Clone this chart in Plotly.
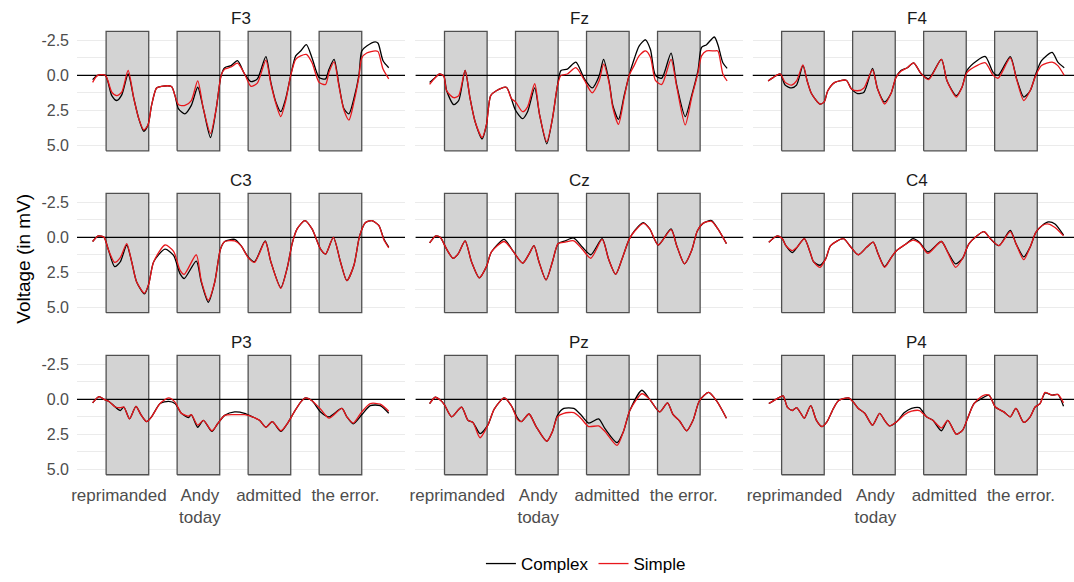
import plotly.graph_objects as go

# ---------------- data (time in ms, voltage in mV; y axis reversed) ----------------
panel_names = ["F3", "Fz", "F4", "C3", "Cz", "C4", "P3", "Pz", "P4"]

word_on = [0, 500, 1000, 1500]
word_off = [300, 800, 1300, 1800]
rect_top = -3.15
rect_bottom = 5.4

tick_pos = [90, 660, 1145, 1685]
tick_text = ["reprimanded", "Andy<br>today", "admitted", "the error."]

y_tickvals = [-2.5, 0.0, 2.5, 5.0]
y_ticktext = ["-2.5", "0.0", "2.5", "5.0"]

t_F3 = [-95, -60, -5, 40, 75, 110, 155, 195, 230, 265, 295, 320, 355, 390, 460, 485, 510, 555, 600, 645,
        685, 735, 775, 810, 835, 880, 925, 975, 1020, 1065, 1125, 1160, 1195, 1230, 1265, 1300, 1335, 1370,
        1410, 1450, 1500, 1545, 1570, 1605, 1640, 1675, 1710, 1745, 1780, 1800, 1835, 1895, 1915, 1950, 1990]
F3_complex = [0.3, 0.0, 0.0, 1.45, 1.8, 1.4, -0.1, 1.65, 3.1, 4.0, 3.55, 2.15, 0.9, 0.78, 0.8, 1.45, 2.4, 2.75,
              2.15, 0.85, 2.4, 4.45, 2.4, 0.0, -0.55, -0.7, -1.05, -0.1, 0.45, 0.25, -1.35, 0.5, 1.9, 2.6, 1.65,
              0.0, -1.4, -1.75, -2.2, -1.25, 0.15, 0.25, -0.45, -1.15, 0.7, 2.4, 2.75, 1.65, 0.0, -1.75, -2.1,
              -2.4, -2.3, -1.05, -0.55]
F3_simple = [0.5, 0.0, 0.0, 1.2, 1.45, 1.2, -0.35, 1.65, 3.1, 3.9, 3.55, 2.15, 0.9, 0.78, 0.8, 1.45, 2.1, 2.15,
             1.8, 0.4, 2.4, 4.15, 2.4, 0.0, -0.45, -0.6, -0.87, -0.1, 0.78, 0.55, -1.1, 0.6, 2.0, 2.95, 1.8,
             0.0, -1.15, -1.4, -1.5, -0.9, 0.5, 0.65, -0.25, -0.97, 0.8, 2.5, 3.2, 1.9, 0.1, -1.25, -1.6,
             -1.75, -1.7, -0.45, 0.25]

t_Fz = [-105, -65, -35, -5, 15, 65, 100, 145, 180, 215, 265, 295, 325, 365, 435, 470, 500, 550, 585, 635,
        670, 720, 760, 795, 820, 865, 925, 985, 1040, 1090, 1120, 1160, 1185, 1225, 1265, 1300, 1335, 1370,
        1415, 1450, 1485, 1530, 1595, 1635, 1695, 1740, 1785, 1810, 1845, 1900, 1925, 1960, 1990]
Fz_complex = [0.5, 0.15, -0.1, 0.05, 1.1, 2.1, 1.8, -0.35, 1.65, 3.3, 4.55, 3.55, 1.45, 1.1, 0.85, 1.65, 2.5,
              3.1, 2.6, 0.9, 2.85, 4.9, 3.1, 0.75, -0.35, -0.45, -0.95, 0.25, 0.9, 0.0, -1.15, 0.5, 2.15,
              3.15, 1.45, 0.0, -1.15, -2.1, -2.55, -1.85, 0.0, 0.2, -1.6, 0.7, 2.95, 1.45, -0.35, -2.0,
              -2.2, -2.75, -2.2, -0.9, -0.5]
Fz_simple = [0.65, 0.15, -0.1, 0.05, 1.1, 1.6, 1.45, -0.35, 1.65, 3.3, 4.45, 3.55, 1.45, 1.1, 0.85, 1.65, 1.9,
             2.6, 2.25, 0.6, 2.85, 4.75, 3.1, 0.75, 0.0, -0.1, -0.55, 0.35, 1.25, 0.35, -0.8, 0.6, 2.3, 3.5,
             1.6, 0.0, -0.7, -1.4, -1.75, -1.3, 0.35, 0.65, -1.15, 0.8, 3.55, 1.6, -0.2, -1.4, -1.75, -1.75,
             -1.75, -0.1, 0.4]

t_F4 = [-95, -45, -10, 25, 70, 105, 150, 180, 210, 270, 300, 325, 375, 455, 490, 535, 580, 640, 675, 725,
        770, 805, 840, 885, 930, 980, 1035, 1125, 1165, 1230, 1270, 1305, 1375, 1435, 1490, 1525, 1610, 1655,
        1705, 1750, 1790, 1830, 1905, 1945, 1990]
F4_complex = [0.4, 0.05, -0.1, 0.7, 0.9, 0.7, -0.7, 0.4, 1.3, 2.05, 1.9, 1.1, 0.5, 0.35, 0.95, 1.3, 1.2, -0.5,
              0.95, 1.9, 1.3, 0.15, -0.35, -0.55, -0.9, -0.15, 0.25, -1.15, 0.4, 1.45, 0.85, -0.35, -1.05,
              -1.35, -0.2, 0.0, -1.35, 0.25, 1.55, 1.1, -0.1, -1.05, -1.65, -0.95, -0.55]
F4_simple = [0.4, 0.05, -0.1, 0.5, 0.7, 0.4, -0.75, 0.4, 1.3, 2.05, 1.9, 1.1, 0.5, 0.35, 0.95, 1.1, 0.9, -0.4,
             0.95, 2.05, 1.3, 0.15, -0.3, -0.55, -0.9, -0.15, 0.3, -1.15, 0.4, 1.55, 0.85, -0.2, -0.7, -0.9,
             0.0, 0.2, -1.25, 0.3, 1.8, 1.1, 0.0, -0.7, -0.95, -0.7, 0.0]

t_C3 = [-95, -55, -15, 15, 60, 100, 145, 180, 215, 270, 300, 335, 415, 475, 520, 550, 635, 670, 720, 765,
        805, 835, 905, 950, 1000, 1045, 1120, 1160, 1230, 1275, 1310, 1345, 1400, 1450, 1510, 1545, 1600,
        1650, 1695, 1745, 1785, 1825, 1870, 1920, 1955, 1990]
C3_complex = [0.3, -0.1, 0.0, 0.85, 2.1, 1.75, 0.55, 1.75, 3.2, 4.05, 3.35, 1.75, 0.85, 1.3, 2.6, 2.95, 1.7,
              3.2, 4.65, 3.2, 0.85, 0.3, 0.15, 0.6, 1.4, 1.75, 0.25, 1.75, 3.6, 2.2, 0.45, -0.6, -1.2, -0.6,
              0.85, 1.2, 0.0, 1.75, 3.1, 2.0, -0.1, -1.05, -1.2, -0.85, 0.1, 0.7]
C3_simple = [0.3, -0.1, 0.0, 0.85, 1.8, 1.45, 0.45, 1.75, 3.2, 4.0, 3.35, 1.75, 0.55, 1.0, 2.35, 2.65, 1.25,
             3.1, 4.5, 3.2, 0.85, 0.3, 0.25, 0.6, 1.45, 1.8, 0.3, 1.75, 3.65, 2.2, 0.45, -0.6, -1.2, -0.6,
             0.85, 1.2, 0.0, 1.75, 3.1, 2.0, -0.1, -1.05, -1.2, -0.85, 0.15, 0.75]

t_Cz = [-105, -60, -30, 15, 60, 95, 145, 190, 245, 295, 330, 420, 480, 550, 595, 630, 665, 715, 760, 800,
        850, 910, 970, 1030, 1110, 1155, 1205, 1250, 1300, 1340, 1400, 1445, 1505, 1595, 1635, 1690, 1740,
        1780, 1820, 1880, 1925, 1985]
Cz_complex = [0.4, -0.1, 0.0, 0.85, 1.5, 1.2, 0.25, 1.75, 2.9, 2.1, 1.05, 0.15, 0.95, 1.85, 1.2, 0.6, 1.75,
              3.05, 1.75, 0.45, 0.25, 0.05, 0.7, 1.25, 0.1, 1.55, 2.65, 1.55, 0.15, -0.5, -1.05, -0.6, 0.55,
              -0.6, 0.6, 1.9, 0.95, -0.45, -1.0, -1.2, -0.6, 0.45]
Cz_simple = [0.4, -0.1, 0.0, 0.85, 1.5, 1.2, 0.25, 1.75, 2.9, 2.1, 1.05, 0.3, 0.95, 1.85, 1.2, 0.6, 1.75,
             3.05, 1.75, 0.45, 0.35, 0.25, 0.85, 1.5, 0.15, 1.55, 2.65, 1.55, 0.15, -0.45, -1.0, -0.6, 0.55,
             -0.55, 0.6, 1.9, 0.95, -0.45, -1.0, -1.15, -0.6, 0.45]

t_C4 = [-90, -30, 5, 30, 75, 110, 160, 200, 225, 270, 310, 345, 435, 480, 540, 600, 645, 680, 725, 775,
        810, 880, 925, 970, 1030, 1125, 1170, 1225, 1275, 1320, 1425, 1470, 1530, 1610, 1650, 1705, 1750,
        1790, 1835, 1880, 1925, 1985]
C4_complex = [0.35, -0.1, 0.1, 0.6, 1.1, 0.7, 0.1, 1.05, 1.75, 2.0, 1.55, 0.6, 0.1, 0.6, 1.25, 0.7, 0.35,
              1.2, 2.1, 1.4, 0.95, 0.45, 0.1, 0.35, 1.05, 0.3, 1.05, 1.9, 1.5, 0.45, -0.4, 0.1, 0.6, -0.5,
              0.45, 1.4, 0.7, -0.35, -0.85, -1.1, -0.95, -0.15]
C4_simple = [0.35, -0.1, 0.1, 0.6, 0.95, 0.7, 0.1, 1.05, 1.75, 2.15, 1.55, 0.6, 0.1, 0.6, 1.25, 0.7, 0.35,
             1.2, 2.15, 1.4, 0.95, 0.45, 0.2, 0.4, 1.15, 0.3, 1.1, 2.15, 1.5, 0.45, -0.4, 0.1, 0.6, -0.4,
             0.45, 1.6, 0.7, -0.35, -0.85, -0.95, -0.7, -0.1]

t_P3 = [-95, -50, -15, 20, 65, 100, 125, 165, 210, 245, 285, 320, 380, 440, 485, 530, 580, 600, 645, 685,
        745, 785, 835, 905, 975, 1030, 1080, 1125, 1170, 1230, 1275, 1325, 1370, 1405, 1450, 1510, 1570,
        1660, 1695, 1740, 1800, 1860, 1930, 1990]
P3_complex = [0.25, -0.2, 0.0, 0.15, 0.55, 0.8, 0.55, 1.4, 0.5, 1.1, 1.6, 1.25, 0.3, 0.15, 0.3, 1.0, 1.3,
              1.1, 2.0, 1.5, 2.3, 1.75, 1.15, 0.9, 1.0, 1.25, 1.5, 2.0, 1.6, 2.3, 1.75, 0.9, 0.2, -0.1, 0.1,
              0.9, 1.25, 0.65, 1.25, 1.75, 1.1, 0.45, 0.45, 1.0]
P3_simple = [0.25, -0.2, 0.0, 0.15, 0.55, 0.6, 0.55, 1.4, 0.5, 1.1, 1.6, 1.25, 0.3, -0.1, 0.2, 1.0, 1.2,
             1.1, 1.85, 1.5, 2.25, 1.75, 1.15, 1.1, 1.1, 1.25, 1.5, 2.0, 1.6, 2.25, 1.75, 0.9, 0.2, -0.1,
             0.1, 0.7, 1.35, 0.65, 1.25, 1.7, 0.9, 0.3, 0.35, 0.85]

t_Pz = [-105, -65, -30, 0, 50, 120, 165, 200, 250, 305, 350, 420, 470, 515, 540, 595, 645, 720, 760, 795,
        840, 910, 960, 1015, 1085, 1130, 1215, 1260, 1305, 1390, 1445, 1515, 1570, 1610, 1655, 1705, 1750,
        1795, 1860, 1915, 1985]
Pz_complex = [0.3, -0.15, 0.05, 0.4, 1.25, 0.55, 1.5, 1.65, 2.45, 1.85, 0.7, -0.1, 0.45, 1.35, 1.6, 1.05,
              1.95, 3.0, 2.3, 1.15, 0.65, 0.65, 1.1, 1.7, 1.4, 2.1, 3.1, 2.3, 0.8, -0.65, 0.0, 0.9, 0.25, 1.1,
              1.55, 2.25, 1.5, 0.1, -0.5, 0.1, 1.35]
Pz_simple = [0.3, -0.15, 0.05, 0.4, 1.25, 0.55, 1.5, 1.65, 2.75, 1.85, 0.7, -0.1, 0.45, 1.45, 1.6, 1.05,
             1.95, 3.0, 2.3, 1.25, 1.0, 0.95, 1.35, 1.95, 1.9, 2.3, 3.3, 2.3, 0.8, -0.4, 0.0, 0.9, 0.25, 1.1,
             1.55, 2.25, 1.5, 0.1, -0.5, 0.1, 1.35]

t_P4 = [-90, -40, 10, 40, 75, 105, 135, 160, 205, 245, 285, 320, 365, 400, 470, 505, 540, 585, 640, 690,
        725, 760, 810, 865, 915, 970, 1020, 1065, 1125, 1170, 1230, 1275, 1310, 1355, 1415, 1460, 1505,
        1565, 1610, 1650, 1705, 1750, 1785, 1820, 1855, 1905, 1945, 1985]
P4_complex = [0.3, 0.0, -0.25, 0.55, 0.8, 0.6, 1.0, 1.35, 0.45, 1.5, 1.95, 1.6, 0.65, 0.1, -0.1, 0.2, 0.65,
              1.0, 1.85, 1.0, 1.5, 1.9, 1.6, 0.95, 0.65, 0.6, 1.25, 1.5, 2.25, 1.5, 2.5, 2.2, 1.35, 0.3, -0.1,
              -0.3, 0.55, 0.9, 1.25, 0.65, 1.65, 1.25, 0.55, 0.3, -0.45, -0.3, -0.35, 0.5]
P4_simple = [0.3, 0.0, -0.25, 0.55, 0.8, 0.6, 1.0, 1.35, 0.45, 1.5, 1.95, 1.6, 0.65, 0.1, -0.1, 0.2, 0.65,
             1.0, 1.85, 1.0, 1.5, 1.9, 1.6, 1.1, 0.85, 0.8, 1.25, 1.5, 2.05, 1.5, 2.5, 2.2, 1.35, 0.3, -0.25,
             -0.3, 0.55, 0.9, 1.25, 0.65, 1.65, 1.25, 0.55, 0.3, -0.5, -0.3, -0.35, 0.25]

panels = {
    "F3": (t_F3, F3_complex, F3_simple), "Fz": (t_Fz, Fz_complex, Fz_simple), "F4": (t_F4, F4_complex, F4_simple),
    "C3": (t_C3, C3_complex, C3_simple), "Cz": (t_Cz, Cz_complex, Cz_simple), "C4": (t_C4, C4_complex, C4_simple),
    "P3": (t_P3, P3_complex, P3_simple), "Pz": (t_Pz, Pz_complex, Pz_simple), "P4": (t_P4, P4_complex, P4_simple),
}

# ---------------- layout geometry ----------------
W, H = 1074, 582
FONT = "Liberation Sans, Arial, sans-serif"
col_left = [71.4, 411.7, 750.7]
panel_w = 329.9
row_top = [25.0, 188.9, 352.9]
panel_h = 133.7
x_lo, x_hi = -205, 2105
ms_per_px = (x_hi - x_lo) / panel_w
y_range = [5.83, -3.63]

fig = go.Figure()
layout = {}
annotations = []

# rectangles as one filled trace per panel
rx, ry = [], []
for a, b in zip(word_on, word_off):
    rx += [a, b, b, a, a, None]
    ry += [rect_bottom, rect_bottom, rect_top, rect_top, rect_bottom, None]

for i, name in enumerate(panel_names):
    r, c = divmod(i, 3)
    n = "" if i == 0 else str(i + 1)
    xa, ya = "x" + n, "y" + n
    left = col_left[c]
    right = min(left + panel_w, W)
    xr_hi = x_lo + (right - left) * ms_per_px
    top = row_top[r]
    bottom = top + panel_h

    layout["xaxis" + n] = dict(
        domain=[left / W, right / W], anchor=ya, range=[x_lo, xr_hi],
        showgrid=False, zeroline=False, showline=False, ticks="",
        tickmode="array", tickvals=tick_pos, ticktext=tick_text,
        showticklabels=(r == 2), tickfont=dict(family=FONT, size=17, color="#4D4D4D"),
        ticklabelstandoff=2,
    )
    layout["yaxis" + n] = dict(
        domain=[1 - bottom / H, 1 - top / H], anchor=xa, range=y_range,
        showgrid=True, gridcolor="#EBEBEB", gridwidth=1.1, zeroline=False, showline=False, ticks="",
        tickmode="array", tickvals=y_tickvals, ticktext=y_ticktext,
        minor=dict(tickmode="array", tickvals=[-1.25, 1.25, 3.75], showgrid=True,
                   gridcolor="#EBEBEB", gridwidth=0.6),
        showticklabels=(c == 0), tickfont=dict(family=FONT, size=16, color="#4D4D4D"),
        ticklabelstandoff=7,
    )

    fig.add_trace(go.Scatter(x=rx, y=ry, xaxis=xa, yaxis=ya, mode="lines", fill="toself",
                             fillcolor="#D3D3D3", line=dict(color="#505050", width=1.3),
                             hoverinfo="skip", showlegend=False))
    fig.add_trace(go.Scatter(x=[x_lo, x_hi], y=[0, 0], xaxis=xa, yaxis=ya, mode="lines",
                             line=dict(color="black", width=1.2), hoverinfo="skip", showlegend=False))
    t, comp, simp = panels[name]
    fig.add_trace(go.Scatter(x=t, y=comp, xaxis=xa, yaxis=ya, mode="lines", name="Complex",
                             legendgroup="Complex", showlegend=(i == 0),
                             line=dict(color="black", width=1.3, shape="spline", smoothing=0.7)))
    fig.add_trace(go.Scatter(x=t, y=simp, xaxis=xa, yaxis=ya, mode="lines", name="Simple",
                             legendgroup="Simple", showlegend=(i == 0),
                             line=dict(color="#E8171C", width=1.3, shape="spline", smoothing=0.7)))

    annotations.append(dict(text=name, x=(left + left + panel_w) / 2 / W, y=1 - (top - 6.7) / H,
                            xref="paper", yref="paper", showarrow=False, xanchor="center",
                            yanchor="middle", font=dict(family=FONT, size=17, color="#1A1A1A")))

annotations.append(dict(text="Voltage (in mV)", x=18 / W, y=1 - 262 / H, xref="paper", yref="paper",
                        showarrow=False, textangle=-90, xanchor="center", yanchor="middle",
                        font=dict(family=FONT, size=19, color="black")))

fig.update_layout(
    **layout,
    width=W, height=H,
    margin=dict(l=0, r=0, t=0, b=0),
    paper_bgcolor="white", plot_bgcolor="white",
    annotations=annotations,
    legend=dict(orientation="h", x=0.543, xanchor="center", y=1 - 571 / H, yanchor="middle",
                font=dict(family=FONT, size=17, color="black"), bgcolor="rgba(0,0,0,0)"),
    hovermode=False,
)

fig.write_html("out.html")
